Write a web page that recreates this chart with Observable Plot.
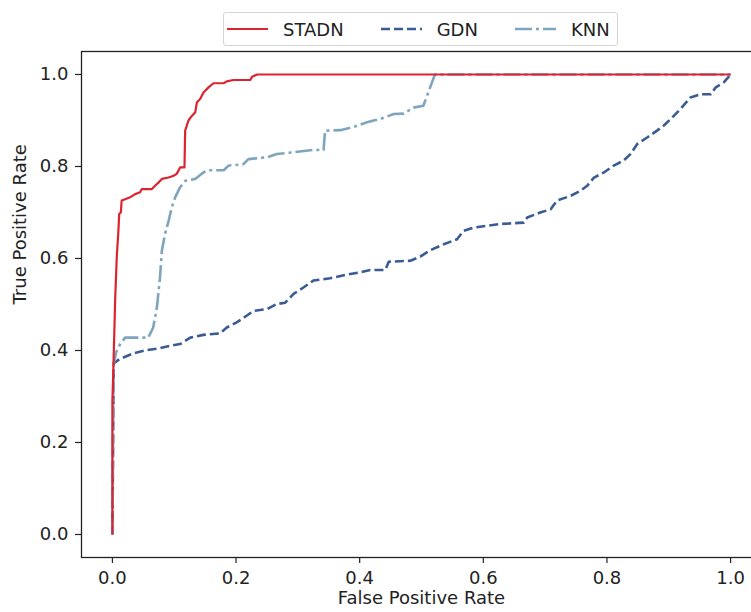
<!DOCTYPE html>
<html>
<head>
<meta charset="utf-8">
<script src="https://cdn.jsdelivr.net/npm/d3@7"></script>
<script src="https://cdn.jsdelivr.net/npm/@observablehq/plot@0.6"></script>
<style>
  html, body { margin: 0; padding: 0; background: #fff; overflow: hidden; }
  #wrap { position: relative; width: 751px; height: 612px; font-family: "DejaVu Sans", sans-serif; }
  #legend {
    position: absolute; left: 223px; top: 12px; height: 32px;
    border: 1px solid #d4d4d4; border-radius: 3px; background: rgba(255,255,255,0.85);
    display: flex; align-items: center; padding: 0 7px 0 3px;
    font-size: 18px; color: #222; box-sizing: content-box;
  }
  #legend .item { display: flex; align-items: center; }
  #legend .item + .item { margin-left: 37px; }
  #legend svg { display: block; margin-right: 15px; }
</style>
</head>
<body>
<div id="wrap"><div id="chart"></div><div id="legend"></div></div>
<script>
// ---- data ----
const seriesNames = ["STADN", "GDN", "KNN"];
const seriesColors = ["#dc2330", "#3a5b93", "#7ea5bd"];
const seriesDash = ["none", "9,4", "17,4,3,4"];
const seriesWidth = [2.2, 2.6, 2.6];

const stadnFpr = [0, 0, 0.0016, 0.0044, 0.007, 0.0097, 0.011, 0.0136, 0.015, 0.0206, 0.0287, 0.0367, 0.0448, 0.0476, 0.0638, 0.069, 0.0745, 0.080, 0.0907, 0.099, 0.104, 0.1096, 0.1166, 0.1177, 0.123, 0.1285, 0.134, 0.1366, 0.142, 0.1473, 0.1555, 0.1635, 0.18, 0.185, 0.196, 0.223, 0.226, 0.234, 1.0];
const stadnTpr = [0, 0.29, 0.363, 0.508, 0.602, 0.66, 0.697, 0.70, 0.726, 0.729, 0.733, 0.740, 0.744, 0.751, 0.751, 0.758, 0.765, 0.773, 0.776, 0.78, 0.784, 0.798, 0.798, 0.878, 0.90, 0.91, 0.918, 0.939, 0.947, 0.961, 0.972, 0.981, 0.981, 0.985, 0.988, 0.988, 0.995, 1.0, 1.0];

const gdnFpr = [0, 0.002, 0.0113, 0.034, 0.0557, 0.077, 0.093, 0.1096, 0.126, 0.147, 0.174, 0.185, 0.201, 0.2176, 0.228, 0.25, 0.266, 0.2796, 0.293, 0.309, 0.325, 0.352, 0.3795, 0.401, 0.417, 0.4415, 0.447, 0.482, 0.498, 0.514, 0.536, 0.5575, 0.568, 0.584, 0.628, 0.665, 0.671, 0.692, 0.709, 0.719, 0.741, 0.757, 0.768, 0.779, 0.795, 0.811, 0.827, 0.838, 0.849, 0.865, 0.881, 0.892, 0.903, 0.919, 0.935, 0.952, 0.968, 0.976, 0.989, 1.0];
const gdnTpr = [0, 0.372, 0.381, 0.394, 0.401, 0.405, 0.41, 0.414, 0.428, 0.434, 0.437, 0.45, 0.461, 0.476, 0.486, 0.49, 0.501, 0.504, 0.523, 0.537, 0.552, 0.557, 0.565, 0.57, 0.575, 0.575, 0.593, 0.595, 0.604, 0.618, 0.631, 0.642, 0.66, 0.667, 0.675, 0.678, 0.689, 0.70, 0.707, 0.726, 0.736, 0.747, 0.758, 0.776, 0.787, 0.802, 0.813, 0.827, 0.849, 0.863, 0.878, 0.889, 0.903, 0.925, 0.95, 0.957, 0.957, 0.972, 0.983, 1.0];

const knnFpr = [0, 0.002, 0.006, 0.0125, 0.0206, 0.058, 0.066, 0.072, 0.077, 0.080, 0.085, 0.091, 0.096, 0.1015, 0.1096, 0.1177, 0.134, 0.147, 0.1555, 0.18, 0.188, 0.212, 0.22, 0.25, 0.266, 0.293, 0.325, 0.3416, 0.344, 0.3686, 0.39, 0.412, 0.4225, 0.433, 0.455, 0.471, 0.487, 0.503, 0.509, 0.514, 0.52, 0.522, 1.0];
const knnTpr = [0, 0.37, 0.396, 0.414, 0.428, 0.428, 0.45, 0.494, 0.559, 0.617, 0.653, 0.682, 0.711, 0.733, 0.755, 0.769, 0.773, 0.787, 0.792, 0.792, 0.802, 0.805, 0.816, 0.82, 0.827, 0.831, 0.836, 0.836, 0.878, 0.879, 0.886, 0.896, 0.90, 0.903, 0.914, 0.915, 0.928, 0.932, 0.954, 0.972, 0.994, 1.0, 1.0];

const axisTicks = [0, 0.2, 0.4, 0.6, 0.8, 1.0];
const xLabel = "False Positive Rate";
const yLabel = "True Positive Rate";

// ---- build rows ----
function rows(name, xs, ys) {
  const n = Math.min(xs.length, ys.length);
  return d3.range(n).map(i => ({series: name, fpr: xs[i], tpr: ys[i]}));
}
const stadn = rows("STADN", stadnFpr, stadnTpr);
const gdn = rows("GDN", gdnFpr, gdnTpr);
const knn = rows("KNN", knnFpr, knnTpr);

const fmt = d3.format(".1f");
const ink = "#222";

const lineFor = (data, k) => Plot.line(data, {
  x: "fpr", y: "tpr",
  stroke: seriesColors[k], strokeWidth: seriesWidth[k],
  strokeDasharray: seriesDash[k] === "none" ? undefined : seriesDash[k],
  strokeLinejoin: "round", strokeLinecap: "butt"
});

const chart = Plot.plot({
  width: 751, height: 612,
  marginLeft: 81, marginTop: 51, marginBottom: 55, marginRight: -10,
  style: {fontFamily: "DejaVu Sans, sans-serif", fontSize: "18px", color: ink, background: "#fff", overflow: "hidden"},
  x: {domain: [-0.05, 1.05]},
  y: {domain: [-0.05, 1.05]},
  marks: [
    Plot.frame({stroke: ink, strokeWidth: 1.3}),
    Plot.axisX({ticks: axisTicks, tickFormat: fmt, tickSize: 6, tickPadding: 8, label: null, stroke: ink, strokeWidth: 1.2, fill: ink}),
    Plot.axisY({ticks: axisTicks, tickFormat: fmt, tickSize: 6, tickPadding: 7, label: null, stroke: ink, strokeWidth: 1.2, fill: ink}),
    lineFor(gdn, 1),
    lineFor(knn, 2),
    lineFor(stadn, 0),
    Plot.text([xLabel], {text: d => d, frameAnchor: "bottom", dy: 46.5, fill: ink, fontSize: 18}),
    Plot.text([yLabel], {text: d => d, frameAnchor: "left", dx: -61, rotate: -90, fill: ink, fontSize: 18})
  ]
});
document.getElementById("chart").appendChild(chart);

// ---- legend ----
const legend = document.getElementById("legend");
seriesNames.forEach((name, k) => {
  const item = document.createElement("div");
  item.className = "item";
  const dash = seriesDash[k] === "none" ? "" : `stroke-dasharray="${seriesDash[k]}"`;
  item.innerHTML = `<svg width="41" height="10"><line x1="0" y1="5" x2="41" y2="5" stroke="${seriesColors[k]}" stroke-width="${seriesWidth[k]}" ${dash}/></svg><span>${name}</span>`;
  legend.appendChild(item);
});
</script>
</body>
</html>
